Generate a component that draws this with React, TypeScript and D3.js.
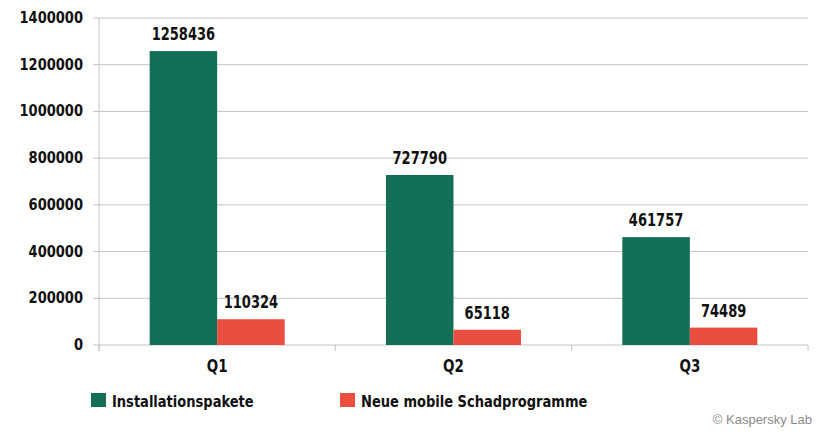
import React from "react";
import * as d3 from "d3";

const categories = ["Q1", "Q2", "Q3"];
const seriesNames = ["Installationspakete", "Neue mobile Schadprogramme"];
const installationspakete = [1258436, 727790, 461757];
const neueMobileSchadprogramme = [110324, 65118, 74489];
const yTicks = [0, 200000, 400000, 600000, 800000, 1000000, 1200000, 1400000];
const colors = ["#146f59", "#e94e3f"];

const W = 818;
const H = 432;
const FONT = "'DejaVu Sans Condensed', 'DejaVu Sans', sans-serif";

function TallText({
  x,
  y,
  sy = 1.18,
  anchor = "start",
  size = 14.5,
  children,
}: {
  x: number;
  y: number;
  sy?: number;
  anchor?: "start" | "middle" | "end";
  size?: number;
  children: React.ReactNode;
}) {
  return (
    <text
      transform={`translate(${x},${y}) scale(1,${sy})`}
      textAnchor={anchor}
      fontFamily={FONT}
      fontStretch="condensed"
      fontWeight="bold"
      fontSize={size}
      fill="#111"
    >
      {children}
    </text>
  );
}

export default function App() {
  const left = 99;
  const right = 808;
  const top = 18;
  const bottom = 345;

  const x = d3.scaleBand<string>().domain(categories).range([left, right]).paddingInner(0).paddingOuter(0);
  const inner = d3.scaleBand<number>().domain([0, 1]).range([0, x.bandwidth()]).paddingInner(0).paddingOuter(0.75);
  const y = d3.scaleLinear().domain([0, 1400000]).range([bottom, top]);

  const series = [installationspakete, neueMobileSchadprogramme];

  return (
    <svg width={W} height={H} style={{ position: "absolute", left: 0, top: 0 }}>
      <rect width={W} height={H} fill="#ffffff" />
      {yTicks.map((t) => (
        <g key={t}>
          <line x1={left - 6} x2={right} y1={y(t)} y2={y(t)} stroke="#c4c4c4" strokeWidth={1} />
          <TallText x={left - 16} y={y(t) + 5} anchor="end" sy={1.05}>
            {t}
          </TallText>
        </g>
      ))}
      <line x1={left} x2={left} y1={top} y2={bottom + 6} stroke="#c4c4c4" strokeWidth={1} />
      {[...categories.map((c) => x(c)!), right].map((px, i) => (
        <line key={i} x1={px} x2={px} y1={bottom} y2={bottom + 6} stroke="#c4c4c4" strokeWidth={1} />
      ))}
      {categories.map((c, ci) => (
        <g key={c}>
          {series.map((s, si) => {
            const bx = x(c)! + inner(si)!;
            const by = y(s[ci]);
            return (
              <g key={si}>
                <rect x={bx} y={by} width={inner.bandwidth()} height={bottom - by} fill={colors[si]} />
                <TallText x={bx + inner.bandwidth() / 2} y={by - 11} anchor="middle">
                  {s[ci]}
                </TallText>
              </g>
            );
          })}
          <TallText x={x(c)! + x.bandwidth() / 2} y={372} anchor="middle" size={15} sy={1.2}>
            {c}
          </TallText>
        </g>
      ))}
      {seriesNames.map((n, i) => {
        const lx = [91, 340][i];
        return (
          <g key={n}>
            <rect x={lx} y={393} width={15} height={14} fill={colors[i]} />
            <TallText x={lx + 21} y={406.5} sy={1.15}>
              {n}
            </TallText>
          </g>
        );
      })}
      <text
        x={812}
        y={424}
        textAnchor="end"
        fontFamily="'Liberation Sans', Arial, sans-serif"
        fontSize={13}
        fill="#8a8a8a"
      >
        © Kaspersky Lab
      </text>
    </svg>
  );
}
